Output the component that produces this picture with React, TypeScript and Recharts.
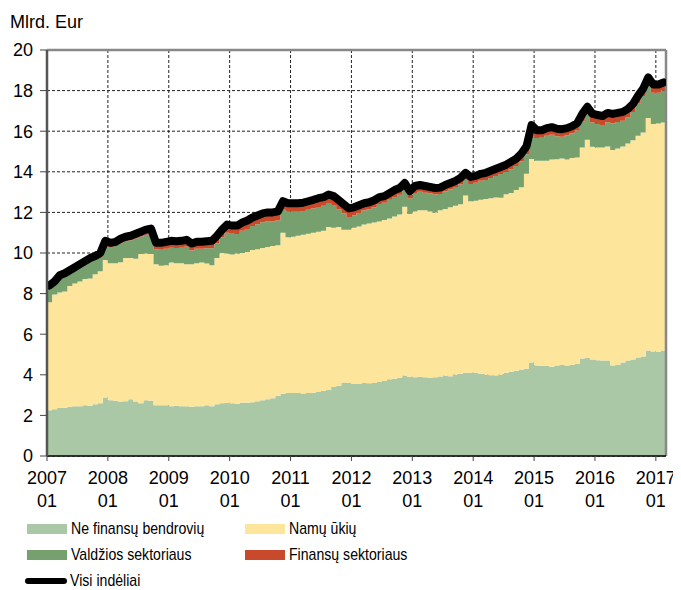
import { ComposedChart, Area, Line, XAxis, YAxis, CartesianGrid, ReferenceLine } from "recharts";

// Monthly deposits, bn EUR, 2007-01 .. 2017-02
const nonFinancial = [
  2.25, 2.3, 2.38, 2.38, 2.42, 2.45, 2.45, 2.5, 2.48, 2.55, 2.6, 2.88,
  2.75, 2.72, 2.68, 2.7, 2.8, 2.68, 2.6, 2.75, 2.72, 2.5, 2.5, 2.5,
  2.45, 2.48, 2.45, 2.45, 2.42, 2.45, 2.45, 2.5, 2.45, 2.55, 2.6, 2.62,
  2.6, 2.58, 2.62, 2.62, 2.65, 2.7, 2.75, 2.8, 2.85, 2.95, 3.05, 3.1,
  3.1, 3.1, 3.08, 3.1, 3.12, 3.15, 3.2, 3.25, 3.4, 3.45, 3.62, 3.6,
  3.55, 3.55, 3.6, 3.58, 3.6, 3.65, 3.7, 3.78, 3.8, 3.85, 3.95, 3.9,
  3.88, 3.9, 3.88, 3.85, 3.88, 3.92, 3.95, 3.93, 4.0, 4.05, 4.1, 4.1,
  4.1, 4.05, 4.0, 3.98, 3.97, 4.0, 4.1, 4.15, 4.2, 4.25, 4.3, 4.6,
  4.46, 4.45, 4.45, 4.4, 4.46, 4.48, 4.46, 4.5, 4.55, 4.8, 4.83, 4.75,
  4.72, 4.7, 4.7, 4.46, 4.5, 4.6, 4.7, 4.75, 4.85, 4.9, 5.2, 5.15,
  5.12, 5.2,
];

const households = [
  5.32, 5.65, 5.67, 5.72, 5.96, 6.05, 6.15, 6.22, 6.27, 6.4, 6.5, 6.78,
  6.75, 6.78, 6.87, 7.05, 6.95, 7.04, 7.35, 7.23, 7.23, 6.95, 6.87, 6.9,
  7.08, 7.02, 7.05, 7.0, 7.03, 7.05, 7.08, 6.98, 6.95, 7.2, 7.4, 7.36,
  7.32, 7.4, 7.38, 7.43, 7.5, 7.48, 7.5, 7.5, 7.5, 7.43, 7.95, 7.68,
  7.7, 7.75, 7.82, 7.85, 7.88, 7.9, 7.9, 8.03, 7.85, 7.83, 7.53, 7.55,
  7.7, 7.75, 7.8, 7.87, 7.9, 7.9, 7.92, 7.92, 8.0, 8.05, 8.33, 8.02,
  8.17, 8.2, 8.22, 8.2, 8.12, 8.18, 8.22, 8.32, 8.33, 8.35, 8.73, 8.45,
  8.48, 8.57, 8.66, 8.72, 8.77, 8.72, 8.8, 8.81, 8.9, 8.99, 9.6, 10.03,
  10.09, 10.1, 10.1, 10.2, 10.16, 10.17, 10.14, 10.18, 10.15, 10.4, 10.75, 10.48,
  10.48, 10.5, 10.55, 10.61, 10.65, 10.65, 10.7, 10.8, 10.93, 11.04, 11.45, 11.2,
  11.26, 11.23,
];

const government = [
  0.71, 0.53, 0.72, 0.77, 0.63, 0.66, 0.7, 0.73, 0.85, 0.74, 0.73, 0.74,
  0.8, 0.85, 0.94, 0.83, 0.88, 1.0, 0.86, 0.92, 0.99, 0.73, 0.79, 0.81,
  0.73, 0.75, 0.76, 0.86, 0.67, 0.71, 0.68, 0.75, 0.84, 0.73, 0.77, 1.02,
  1.03, 0.96, 1.1, 1.13, 1.18, 1.24, 1.26, 1.26, 1.22, 1.22, 1.13, 1.25,
  1.23, 1.18, 1.17, 1.18, 1.19, 1.21, 1.23, 1.18, 1.11, 0.87, 0.81, 0.62,
  0.6, 0.67, 0.69, 0.7, 0.75, 0.86, 0.85, 0.92, 0.96, 0.97, 0.83, 0.77,
  0.91, 0.92, 0.87, 0.88, 0.88, 0.81, 0.86, 0.88, 0.89, 0.97, 0.78, 0.85,
  0.88, 0.94, 0.94, 1.0, 1.05, 1.17, 1.09, 1.17, 1.18, 1.28, 0.97, 1.29,
  1.12, 1.13, 1.23, 1.22, 1.13, 1.08, 1.19, 1.21, 1.34, 1.28, 1.24, 1.2,
  1.16, 1.1, 1.19, 1.32, 1.3, 1.26, 1.28, 1.4, 1.59, 1.8, 1.62, 1.55,
  1.52, 1.57,
];

const financial = [
  0.12, 0.12, 0.13, 0.13, 0.14, 0.14, 0.15, 0.15, 0.15, 0.16, 0.17, 0.2,
  0.2, 0.2, 0.21, 0.22, 0.22, 0.23, 0.24, 0.25, 0.26, 0.32, 0.34, 0.34,
  0.34, 0.33, 0.34, 0.34, 0.35, 0.34, 0.34, 0.35, 0.36, 0.37, 0.38, 0.4,
  0.4, 0.41, 0.4, 0.42, 0.42, 0.43, 0.44, 0.44, 0.43, 0.45, 0.42, 0.42,
  0.42, 0.42, 0.41, 0.42, 0.43, 0.44, 0.42, 0.42, 0.44, 0.45, 0.44, 0.43,
  0.4, 0.38, 0.36, 0.35, 0.35, 0.34, 0.33, 0.33, 0.34, 0.33, 0.34, 0.36,
  0.34, 0.33, 0.33, 0.32, 0.32, 0.31, 0.32, 0.32, 0.33, 0.33, 0.34, 0.35,
  0.34, 0.34, 0.35, 0.35, 0.36, 0.36, 0.36, 0.37, 0.37, 0.38, 0.38, 0.38,
  0.38, 0.37, 0.37, 0.38, 0.37, 0.37, 0.36, 0.36, 0.36, 0.37, 0.38, 0.42,
  0.44, 0.45, 0.46, 0.46, 0.45, 0.44, 0.42, 0.4, 0.38, 0.36, 0.38, 0.4,
  0.4, 0.4,
];

const totalDeposits = [
  8.4, 8.6, 8.9, 9.0, 9.15, 9.3, 9.45, 9.6, 9.75, 9.85, 10.0, 10.6,
  10.5, 10.55, 10.7, 10.8, 10.85, 10.95, 11.05, 11.15, 11.2, 10.5, 10.5, 10.55,
  10.6, 10.58, 10.6, 10.65, 10.47, 10.55, 10.55, 10.58, 10.6, 10.85, 11.15, 11.4,
  11.35, 11.35, 11.5, 11.6, 11.75, 11.85, 11.95, 12.0, 12.0, 12.05, 12.55, 12.45,
  12.45, 12.45, 12.48, 12.55, 12.62, 12.7, 12.75, 12.88, 12.8, 12.6, 12.4, 12.2,
  12.25, 12.35, 12.45, 12.5, 12.6, 12.75, 12.8, 12.95, 13.1, 13.2, 13.45, 13.05,
  13.3, 13.35, 13.3, 13.25, 13.2, 13.22, 13.35, 13.45, 13.55, 13.7, 13.95, 13.75,
  13.8, 13.9, 13.95, 14.05, 14.15, 14.25, 14.35, 14.5, 14.65, 14.9, 15.25, 16.3,
  16.05, 16.05, 16.15, 16.2, 16.12, 16.1, 16.15, 16.25, 16.4, 16.85, 17.2, 16.85,
  16.8, 16.75, 16.9, 16.85, 16.9, 16.95, 17.1, 17.35, 17.75, 18.1, 18.65, 18.3,
  18.3, 18.4,
];

const yearLabels = ["2007", "2008", "2009", "2010", "2011", "2012", "2013", "2014", "2015", "2016", "2017"];
const yTicks = [0, 2, 4, 6, 8, 10, 12, 14, 16, 18, 20];

const COLORS = {
  nf: "#abc8a6",
  hh: "#fde59c",
  gov: "#76a16e",
  fin: "#c94a2a",
  total: "#000000",
};

const FONT = "'Liberation Sans', Arial, sans-serif";

const monthCount = nonFinancial.length;

// step areas: each row starts a month; extra closing row so the last month has width
const areaRows = nonFinancial.map((_, i) => ({
  t: i,
  nf: nonFinancial[i],
  hh: households[i],
  gov: government[i],
  fin: financial[i],
}));
areaRows.push({ ...areaRows[monthCount - 1], t: monthCount });

// the total line sits in the middle of each month
const lineRows = totalDeposits.map((v, i) => ({ t: i + 0.5, total: v }));

const xTicks = yearLabels.map((_, i) => i * 12);

function YearTick(props: any) {
  const { x, y, payload } = props;
  const label = yearLabels[Math.round(payload.value / 12)];
  return (
    <text x={x} y={y} textAnchor="middle" fontSize={18} fill="#000" fontFamily={FONT}>
      <tspan x={x} dy={23}>{label}</tspan>
      <tspan x={x} dy={23}>01</tspan>
    </text>
  );
}

const legendItems = [
  { label: "Ne finansų bendrovių", color: COLORS.nf, left: 19, top: 521 },
  { label: "Namų ūkių", color: COLORS.hh, left: 237, top: 521 },
  { label: "Valdžios sektoriaus", color: COLORS.gov, left: 19, top: 547 },
  { label: "Finansų sektoriaus", color: COLORS.fin, left: 237, top: 547 },
];

// legend text in the original is condensed
const legendText = {
  fontSize: 17,
  color: "#000",
  whiteSpace: "nowrap" as const,
  display: "inline-block",
  transform: "scaleX(0.83)",
  transformOrigin: "left center",
};

export default function App() {
  return (
    <div style={{ position: "relative", width: 673, height: 582, fontFamily: FONT, background: "#fff" }}>
      <div style={{ position: "absolute", left: 2, top: 5, fontSize: 18, lineHeight: "18px", color: "#000" }}>
        Mlrd. Eur
      </div>
      <ComposedChart
        width={673}
        height={510}
        data={areaRows}
        margin={{ top: 42, right: 15, left: 9, bottom: 0 }}
      >
        <CartesianGrid stroke="#222" strokeDasharray="3 2" strokeWidth={1} />
        <XAxis
          type="number"
          dataKey="t"
          domain={[0, monthCount]}
          ticks={xTicks}
          interval={0}
          allowDataOverflow
          height={62}
          tick={<YearTick />}
          tickSize={5}
          tickMargin={0}
          axisLine={{ stroke: "#000", strokeWidth: 1.5 }}
          tickLine={{ stroke: "#444" }}
        />
        <YAxis
          type="number"
          domain={[0, 20]}
          ticks={yTicks}
          interval={0}
          width={30}
          tickSize={7}
          tickMargin={7}
          tick={{ fontSize: 18, fill: "#000", fontFamily: FONT }}
          axisLine={{ stroke: "#555", strokeWidth: 2.5 }}
          tickLine={{ stroke: "#444" }}
        />
        <Area dataKey="nf" stackId="s" type="stepAfter" fill={COLORS.nf} fillOpacity={1} stroke="none" dot={false} activeDot={false} isAnimationActive={false} />
        <Area dataKey="hh" stackId="s" type="stepAfter" fill={COLORS.hh} fillOpacity={1} stroke="none" dot={false} activeDot={false} isAnimationActive={false} />
        <Area dataKey="gov" stackId="s" type="stepAfter" fill={COLORS.gov} fillOpacity={1} stroke="none" dot={false} activeDot={false} isAnimationActive={false} />
        <Area dataKey="fin" stackId="s" type="stepAfter" fill={COLORS.fin} fillOpacity={1} stroke="none" dot={false} activeDot={false} isAnimationActive={false} />
        <ReferenceLine y={20} stroke="#888" strokeWidth={2.5} />
        <ReferenceLine x={monthCount} stroke="#888" strokeWidth={2.5} />
        <Line
          data={lineRows}
          dataKey="total"
          type="linear"
          stroke={COLORS.total}
          strokeWidth={8}
          strokeLinejoin="round"
          strokeLinecap="round"
          dot={false}
          activeDot={false}
          isAnimationActive={false}
        />
      </ComposedChart>
      {legendItems.map((it) => (
        <div
          key={it.label}
          style={{ position: "absolute", left: it.left, top: it.top - 10, height: 20, display: "flex", alignItems: "center" }}
        >
          <div style={{ width: 40, height: 10, background: it.color, marginRight: 4 }} />
          <span style={legendText}>{it.label}</span>
        </div>
      ))}
      <div style={{ position: "absolute", left: 17, top: 563, height: 20, display: "flex", alignItems: "center" }}>
        <div style={{ width: 42, height: 6, background: COLORS.total, borderRadius: 3, marginRight: 3 }} />
        <span style={legendText}>Visi indėliai</span>
      </div>
    </div>
  );
}
